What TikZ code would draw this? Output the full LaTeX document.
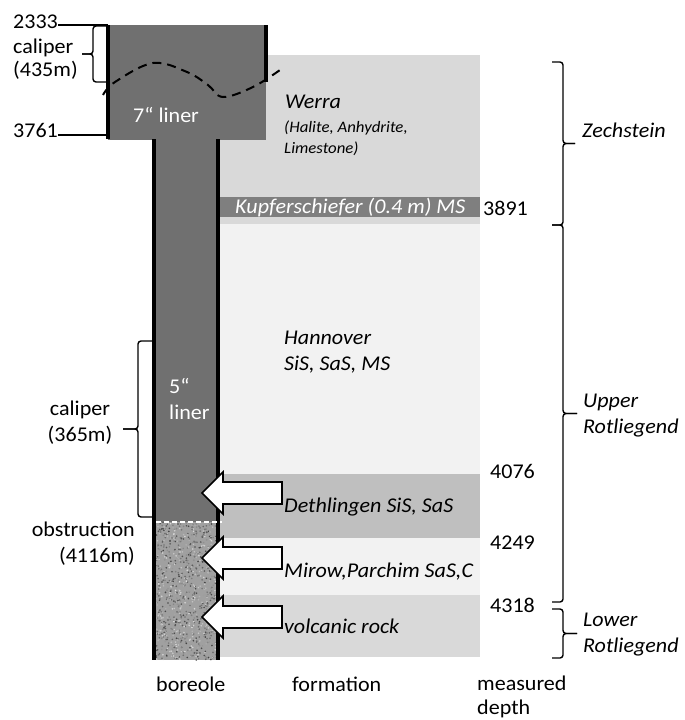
\documentclass[tikz,border=0pt]{standalone}
\usepackage{fontspec}
\setmainfont{Carlito}[FakeStretch=1.05]
\definecolor{linergray}{HTML}{707070}
\definecolor{kupfergray}{HTML}{7F7F7F}
\definecolor{lightband}{HTML}{D9D9D9}
\definecolor{paleband}{HTML}{F2F2F2}
\definecolor{midband}{HTML}{BFBFBF}
\definecolor{rockgray}{HTML}{A0A0A0}
\tikzset{
  txt/.style={font=\fontsize{21}{26}\selectfont, inner sep=0pt, anchor=base west, align=left},
  fmtxt/.style={txt, font=\fontsize{21}{26}\selectfont\itshape},
  casing/.style={line width=3.2pt},
  brc/.style={line width=1.4pt, rounded corners=3pt},
  blockarrow/.style={draw=black, line width=1.6pt, fill=white, line join=miter}
}
% bracket: end x, spine x, tip x, top y, bottom y
\newcommand{\sidebrace}[5]{
  \draw[brc] (#1,#4) -- (#2,#4) -- (#2,{(#4+#5)/2}) -- (#3,{(#4+#5)/2});
  \draw[brc] (#3,{(#4+#5)/2}) -- (#2,{(#4+#5)/2}) -- (#2,#5) -- (#1,#5);
}
\begin{document}
\begin{tikzpicture}[x=1pt,y=-1pt]
\useasboundingbox (0,0) rectangle (685,720);

% formation bands
\fill[lightband] (265,55) rectangle (480,197);
\fill[lightband] (218,140) rectangle (480,197);
\fill[kupfergray] (218,197) rectangle (480,217);
\fill[lightband] (218,217) rectangle (480,224);
\fill[paleband] (218,224) rectangle (480,474);
\fill[midband] (218,474) rectangle (480,538);
\fill[paleband] (218,538) rectangle (480,595);
\fill[lightband] (218,595) rectangle (480,657);

% borehole and liners
\fill[linergray] (108,25) rectangle (266,140);
\fill[linergray] (154,140) rectangle (218,522);
\begin{scope}
  \clip (154,522) rectangle (218,660);
  \fill[rockgray] (154,522) rectangle (218,660);
  \pgfmathsetseed{42}
  \foreach \i in {1,...,1100}{
    \pgfmathsetmacro{\sx}{154+64*rnd}
    \pgfmathsetmacro{\sy}{522+138*rnd}
    \pgfmathtruncatemacro{\sg}{15+60*rnd}
    \fill[black!\sg] (\sx,\sy) circle (0.9);
  }
\end{scope}
\draw[casing] (108,25) -- (108,139);
\draw[casing] (266,25) -- (266,82);
\draw[casing] (154,139) -- (154,660);
\draw[casing] (218,139) -- (218,660);
\draw[white, dashed, line width=1.4pt, dash pattern=on 5pt off 3pt] (156,522) -- (222,522);
\draw[dashed, line width=2pt, dash pattern=on 9pt off 6pt] plot[smooth, tension=0.6]
  coordinates {(103,95) (115,82) (153,63) (187,72) (208,85) (223,97) (253,87) (280,70)};

% inflow arrows
\foreach \ay in {493,558,617}
  \draw[blockarrow] (202,\ay) -- (223,{\ay-21}) -- (223,{\ay-11}) -- (282,{\ay-11})
    -- (282,{\ay+11}) -- (223,{\ay+11}) -- (223,{\ay+21}) -- cycle;

% borehole labels
\coordinate (linertop) at (108,25);
\coordinate (linerbot) at (108,135);
\node[txt] (n2333) at (13,28) {2333};
\node[txt] (cal435) at (13,76) {caliper\\[-3pt](435m)};
\node[txt] (n3761) at (13,137) {3761};
\draw[line width=1.4pt] (n2333.east |- linertop) -- (linertop);
\draw[line width=1.4pt] (n3761.east |- linerbot) -- (linerbot);
\sidebrace{106}{93}{82}{26}{82}
\node[txt, text=white] (liner7) at (133,122) {7“ liner};
\node[txt, text=white] (liner5) at (169,419) {5“\\liner};
\node[txt, anchor=base, align=center] (cal365) at (80,441) {caliper\\(365m)};
\sidebrace{152}{138}{123}{341}{517}
\node[txt, anchor=base east, align=right] (obstr) at (135,562) {obstruction\\(4116m)};

% formations
\node[fmtxt] (werra) at (285,108) {Werra};
\node[fmtxt, font=\fontsize{16}{21}\selectfont\itshape] (werramin) at (284,153) {(Halite, Anhydrite,\\Limestone)};
\node[fmtxt, text=white] (kupfer) at (235,213) {Kupferschiefer (0.4 m) MS};
\node[fmtxt] (hannover) at (284,370) {Hannover\\SiS, SaS, MS};
\node[fmtxt] (dethl) at (284,512) {Dethlingen SiS, SaS};
\node[fmtxt] (mirow) at (284,577) {Mirow,Parchim SaS,C};
\node[fmtxt] (volc) at (284,633) {volcanic rock};

% depths and stratigraphy
\node[txt] (d3891) at (483,215) {3891};
\node[txt] (d4076) at (490,478) {4076};
\node[txt] (d4249) at (490,549) {4249};
\node[txt] (d4318) at (490,612) {4318};
\sidebrace{552}{563}{575}{62}{225}
\sidebrace{552}{563}{577}{225}{602}
\sidebrace{552}{563}{577}{609}{658}
\node[fmtxt] (zech) at (582,137) {Zechstein};
\node[fmtxt] (uprot) at (583,433) {Upper\\Rotliegend};
\node[fmtxt] (lowrot) at (583,652) {Lower\\Rotliegend};

% column headings
\node[txt] (lblbore) at (156,691) {boreole};
\node[txt] (lblform) at (292,691) {formation};
\node[txt] (lbldepth) at (477,714) {measured\\[-2pt]depth};
\end{tikzpicture}
\end{document}
